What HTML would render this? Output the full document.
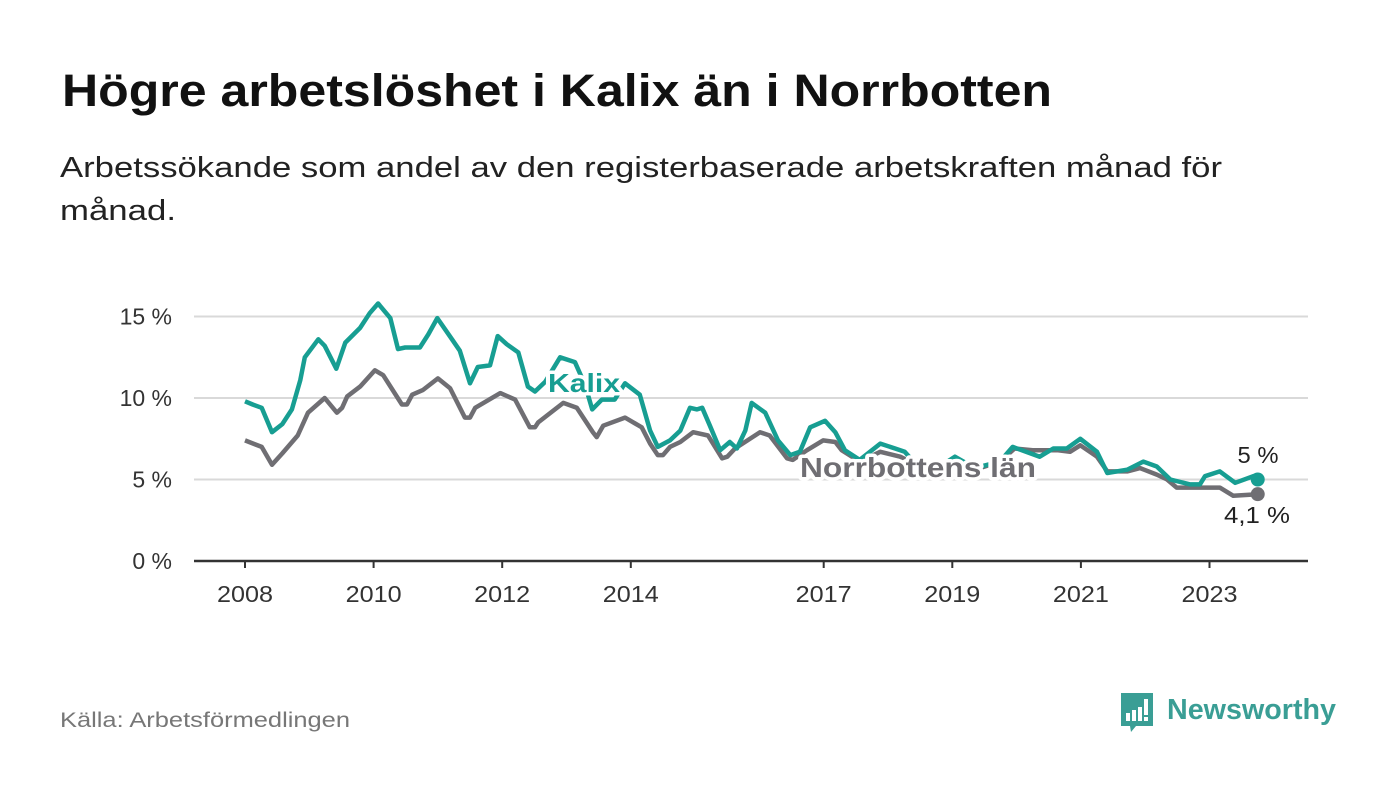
<!DOCTYPE html>
<html><head><meta charset="utf-8"><style>
html,body{margin:0;padding:0;background:#fff;}
svg{display:block;font-family:"Liberation Sans","DejaVu Sans",sans-serif;}
</style></head><body>
<svg id="chart" width="1400" height="794" viewBox="0 0 1400 794">
<text x="62" y="106" font-size="45" font-weight="bold" fill="#111" textLength="990" lengthAdjust="spacingAndGlyphs">Högre arbetslöshet i Kalix än i Norrbotten</text>
<text x="60" y="177" font-size="29" fill="#222" textLength="1162" lengthAdjust="spacingAndGlyphs">Arbetssökande som andel av den registerbaserade arbetskraften månad för</text>
<text x="60" y="220" font-size="29" fill="#222" textLength="116" lengthAdjust="spacingAndGlyphs">månad.</text>
<g id="grid"></g><g id="xaxis"></g><g id="lines"></g><g id="labels"></g>
<text x="60" y="727" font-size="21" fill="#777" textLength="290" lengthAdjust="spacingAndGlyphs">Källa: Arbetsförmedlingen</text>
<g>
<path d="M1121 693 h32 v33 h-17 l-5 6 l-1 -6 h-9 z" fill="#3a9e95"/>
<rect x="1126" y="713" width="4" height="8" fill="#fff"/><rect x="1132" y="710" width="4" height="11" fill="#fff"/><rect x="1138" y="707" width="4" height="14" fill="#fff"/><rect x="1144" y="699" width="4" height="16" fill="#fff"/><rect x="1144" y="717" width="4" height="4" fill="#fff"/>
<text x="1167" y="719" font-size="29" font-weight="bold" fill="#3a9e95" textLength="169" lengthAdjust="spacingAndGlyphs">Newsworthy</text>
</g>
</svg>
<script>
const yTicks=[0,5,10,15];
const yTickLabels=["0 %","5 %","10 %","15 %"];
const xTicks=[2008,2010,2012,2014,2017,2019,2021,2023];
const kalixYears=[2008.0,2008.12,2008.26,2008.42,2008.58,2008.73,2008.86,2008.93,2009.14,2009.24,2009.42,2009.56,2009.79,2009.94,2010.07,2010.26,2010.38,2010.49,2010.72,2010.85,2010.99,2011.22,2011.34,2011.5,2011.62,2011.81,2011.93,2012.07,2012.25,2012.4,2012.51,2012.67,2012.9,2013.13,2013.29,2013.4,2013.55,2013.75,2013.91,2014.14,2014.3,2014.42,2014.61,2014.77,2014.92,2015.03,2015.11,2015.23,2015.39,2015.54,2015.65,2015.78,2015.88,2016.09,2016.29,2016.48,2016.63,2016.79,2017.02,2017.18,2017.33,2017.56,2017.88,2018.11,2018.26,2018.42,2018.73,2019.04,2019.35,2019.74,2019.94,2020.36,2020.57,2020.78,2020.99,2021.25,2021.41,2021.72,2021.97,2022.18,2022.39,2022.7,2022.85,2022.93,2023.16,2023.4,2023.68,2023.75];
const kalixValues=[9.8,9.6,9.4,7.9,8.4,9.3,11.1,12.5,13.6,13.2,11.8,13.4,14.3,15.2,15.8,14.9,13.0,13.1,13.1,13.9,14.9,13.6,12.9,10.9,11.9,12.0,13.8,13.3,12.8,10.7,10.4,11.0,12.5,12.2,10.8,9.3,9.9,9.9,10.9,10.2,8.0,7.0,7.4,8.0,9.4,9.3,9.4,8.3,6.8,7.3,6.9,8.0,9.7,9.1,7.4,6.5,6.7,8.2,8.6,7.9,6.8,6.2,7.2,6.9,6.7,6.0,5.6,6.4,5.7,6.1,7.0,6.4,6.9,6.9,7.5,6.7,5.4,5.6,6.1,5.8,5.0,4.7,4.7,5.2,5.5,4.8,5.2,5.0];
const norrYears=[2008.0,2008.26,2008.42,2008.58,2008.82,2008.98,2009.24,2009.43,2009.51,2009.59,2009.79,2010.02,2010.15,2010.44,2010.52,2010.6,2010.77,2011.0,2011.19,2011.42,2011.5,2011.58,2011.97,2012.2,2012.43,2012.51,2012.56,2012.95,2013.16,2013.41,2013.47,2013.57,2013.91,2014.17,2014.3,2014.42,2014.5,2014.61,2014.77,2014.97,2015.2,2015.42,2015.5,2015.62,2016.01,2016.16,2016.43,2016.52,2016.74,2016.99,2017.18,2017.28,2017.56,2017.88,2018.19,2018.5,2018.81,2019.12,2019.43,2019.74,2019.97,2020.25,2020.63,2020.83,2020.99,2021.25,2021.41,2021.72,2021.92,2022.18,2022.34,2022.49,2022.65,2022.96,2023.16,2023.37,2023.75];
const norrValues=[7.4,7.0,5.9,6.6,7.7,9.1,10.0,9.1,9.4,10.1,10.7,11.7,11.4,9.6,9.6,10.2,10.5,11.2,10.6,8.8,8.8,9.4,10.3,9.9,8.2,8.2,8.5,9.7,9.4,7.9,7.6,8.3,8.8,8.2,7.2,6.5,6.5,7.0,7.3,7.9,7.7,6.3,6.4,6.9,7.9,7.7,6.3,6.2,6.8,7.4,7.3,6.8,6.1,6.7,6.4,5.8,5.6,6.1,5.7,6.1,6.9,6.8,6.8,6.7,7.1,6.4,5.5,5.5,5.7,5.3,5.0,4.5,4.5,4.5,4.5,4.0,4.1];
const kalixEndLabel="5 %";
const norrEndLabel="4,1 %";

const NS="http://www.w3.org/2000/svg";
const X=yr=>245+(yr-2008)*64.3;
const Y=v=>561-v*16.3;
function mk(parent,tag,attrs,text){const e=document.createElementNS(NS,tag);for(const k in attrs)e.setAttribute(k,attrs[k]);if(text!==undefined)e.textContent=text;parent.appendChild(e);return e;}
const grid=document.getElementById('grid'),xa=document.getElementById('xaxis'),lines=document.getElementById('lines'),labels=document.getElementById('labels');
yTicks.forEach((t,i)=>{
  if(t>0){const g=mk(grid,'line',{x1:194,x2:1308,y1:Y(t),y2:Y(t),stroke:'#d9d9d9','stroke-width':2});
  
  }
  const l=mk(grid,'text',{x:172,y:Y(t)+8,'font-size':23,fill:'#333','text-anchor':'end'},yTickLabels[i]);
  
  
});
const ax=mk(xa,'line',{x1:194,x2:1308,y1:561,y2:561,stroke:'#333','stroke-width':2.5});


xTicks.forEach(t=>{
  const tk=mk(xa,'line',{x1:X(t),x2:X(t),y1:561,y2:568,stroke:'#333','stroke-width':2});
  
  
  const l=mk(xa,'text',{x:X(t),y:602,'font-size':23,fill:'#333','text-anchor':'middle',textLength:56,lengthAdjust:'spacingAndGlyphs'},String(t));
  
  
});
function path(ys,vs){return ys.map((y,i)=>(i?'L':'M')+X(y).toFixed(1)+','+Y(vs[i]).toFixed(1)).join('');}
const pn=mk(lines,'path',{d:path(norrYears,norrValues),fill:'none',stroke:'#6f6e73','stroke-width':4.5,'stroke-linejoin':'round'});


const pk=mk(lines,'path',{d:path(kalixYears,kalixValues),fill:'none',stroke:'#179e92','stroke-width':4.5,'stroke-linejoin':'round'});


const nl=norrYears.length-1,kl=kalixYears.length-1;
const dn=mk(lines,'circle',{cx:X(norrYears[nl]),cy:Y(norrValues[nl]),r:7,fill:'#6f6e73'});


const dk=mk(lines,'circle',{cx:X(kalixYears[kl]),cy:Y(kalixValues[kl]),r:7,fill:'#179e92'});


function lab(txt,x,y,size,color,name,anchor,bold,len){
  const a={x:x,y:y,'font-size':size,'font-weight':bold?'bold':'normal','text-anchor':anchor};
  if(len){a.textLength=len;a.lengthAdjust='spacingAndGlyphs';}
  const h=mk(labels,'text',Object.assign({fill:'#fff',stroke:'#fff','stroke-width':7,'stroke-linejoin':'round'},a),txt);
  
  
  const t=mk(labels,'text',Object.assign({fill:color},a),txt);
  
  
}
lab('Kalix',548,392,26,'#179e92','kalix-series-label','start',true,72);
lab('Norrbottens län',800,477,28,'#6f6e73','norrbotten-series-label','start',true,236);
lab(kalixEndLabel,1258,463,23,'#222','kalix-end-value','middle',false,41);
lab(norrEndLabel,1257,523,23,'#222','norrbotten-end-value','middle',false,66);
</script>
</body></html>
